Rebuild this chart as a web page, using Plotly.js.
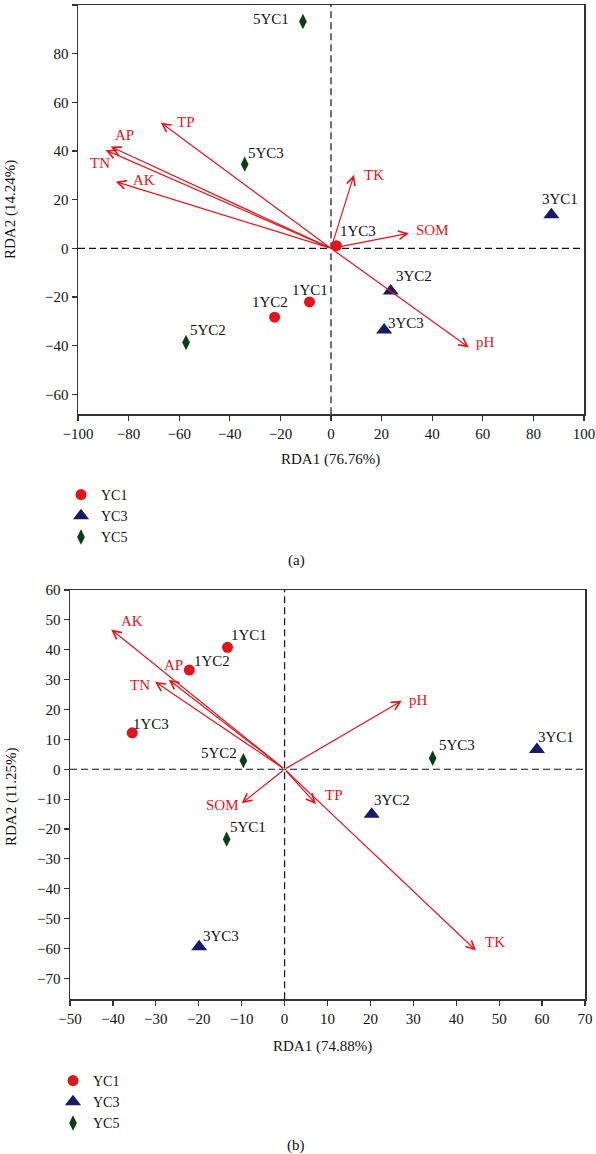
<!DOCTYPE html>
<html><head><meta charset="utf-8">
<script src="https://cdn.plot.ly/plotly-3.0.1.min.js"></script>
<style>html,body{margin:0;padding:0;background:#fff}#chart{width:596px;height:1154px}</style>
</head><body><div id="chart"></div>
<script>
// ---------- Data: panel (a) ----------
const groupNames = ['YC1', 'YC3', 'YC5'];

const aYC1Labels = ['1YC1', '1YC2', '1YC3'];
const aYC1X = [-8.5, -22.3, 2.1];
const aYC1Y = [-22.0, -28.3, 1.1];

const aYC3Labels = ['3YC1', '3YC2', '3YC3'];
const aYC3X = [87.1, 23.6, 21.0];
const aYC3Y = [13.8, -17.5, -33.6];

const aYC5Labels = ['5YC1', '5YC2', '5YC3'];
const aYC5X = [-11.1, -57.3, -34.1];
const aYC5Y = [93.2, -38.7, 34.6];

const aEnvNames = ['TP', 'AP', 'TN', 'AK', 'TK', 'SOM', 'pH'];
const aEnvX = [-67.3, -87.1, -89.1, -85.1, 9.1, 30.8, 54.5];
const aEnvY = [51.7, 41.8, 40.4, 27.4, 30.2, 6.2, -40.7];

const aXTitle = 'RDA1 (76.76%)';
const aYTitle = 'RDA2 (14.24%)';

// ---------- Data: panel (b) ----------
const bYC1Labels = ['1YC1', '1YC2', '1YC3'];
const bYC1X = [-13.3, -22.2, -35.5];
const bYC1Y = [40.8, 33.2, 12.2];

const bYC3Labels = ['3YC1', '3YC2', '3YC3'];
const bYC3X = [58.8, 20.3, -19.9];
const bYC3Y = [6.6, -15.1, -59.4];

const bYC5Labels = ['5YC1', '5YC2', '5YC3'];
const bYC5X = [-13.5, -9.6, 34.5];
const bYC5Y = [-23.4, 2.9, 3.7];

const bEnvNames = ['AK', 'AP', 'TN', 'pH', 'SOM', 'TP', 'TK'];
const bEnvX = [-40.4, -27.0, -30.2, 27.3, -10.0, 7.3, 44.6];
const bEnvY = [46.8, 30.0, 29.3, 22.9, -11.4, -11.6, -60.7];

const bXTitle = 'RDA1 (74.88%)';
const bYTitle = 'RDA2 (11.25%)';

// ---------- Label offsets (pixels, style only) ----------
const aSampleShift = {
  YC1: [[0, 12], [-5, 15], [22, 15]],
  YC3: [[9, 16], [23, 15], [22, 7]],
  YC5: [[-32, 3], [22, 13], [21, 11]]
};
const aEnvShift = [[25, 1], [14, 12], [-6, -13], [28, 2], [20, 0], [24, 3], [17, 5]];
const bSampleShift = {
  YC1: [[21, 12], [23, 9], [19, 9]],
  YC3: [[19, 13], [20, 14], [22, 11]],
  YC5: [[21, 12], [-24, 8], [24, 13]]
};
const bEnvShift = [[21, 8], [5, 15], [-15, -3], [17, 1], [-19, -2], [18, 9], [19, 9]];

// ---------- Styles ----------
const FONT = 'Liberation Serif, Times New Roman, serif';
const RED = '#e6141c';
const styles = {
  YC1: {symbol: 'circle', size: 11, color: '#e3121b'},
  YC3: {symbol: 'triangle-up', size: 14, color: '#151b68'},
  YC5: {symbol: 'diamond-tall', size: 11, color: '#0b3d16'}
};
const W = 596, H = 1154;
const px = v => v / W;
const py = v => 1 - v / H;

const panels = [
  {xa: 'x', ya: 'y', legend: 'legend',
   groups: {YC1: [aYC1Labels, aYC1X, aYC1Y], YC3: [aYC3Labels, aYC3X, aYC3Y], YC5: [aYC5Labels, aYC5X, aYC5Y]},
   env: [aEnvNames, aEnvX, aEnvY], sShift: aSampleShift, eShift: aEnvShift},
  {xa: 'x2', ya: 'y2', legend: 'legend2',
   groups: {YC1: [bYC1Labels, bYC1X, bYC1Y], YC3: [bYC3Labels, bYC3X, bYC3Y], YC5: [bYC5Labels, bYC5X, bYC5Y]},
   env: [bEnvNames, bEnvX, bEnvY], sShift: bSampleShift, eShift: bEnvShift}
];

const traces = [];
const annotations = [];
const shapes = [];

panels.forEach(p => {
  const [en, ex, ey] = p.env;
  en.forEach((name, i) => {
    annotations.push({
      xref: p.xa, yref: p.ya, axref: p.xa, ayref: p.ya,
      x: ex[i], y: ey[i], ax: 0, ay: 0, text: '',
      showarrow: true, arrowhead: 5, arrowsize: 1.4, arrowwidth: 1.2, arrowcolor: RED
    });
    annotations.push({
      xref: p.xa, yref: p.ya, x: ex[i], y: ey[i], text: name, showarrow: false,
      xshift: p.eShift[i][0], yshift: p.eShift[i][1],
      xanchor: 'center', yanchor: 'middle',
      font: {family: FONT, size: 15, color: RED}
    });
  });
  groupNames.forEach(g => {
    const [labels, xs, ys] = p.groups[g];
    traces.push({
      type: 'scatter', mode: 'markers', x: xs, y: ys, name: g,
      xaxis: p.xa, yaxis: p.ya, legend: p.legend, showlegend: true,
      marker: {symbol: styles[g].symbol, size: styles[g].size, color: styles[g].color},
      hoverinfo: 'skip', cliponaxis: false
    });
    labels.forEach((t, i) => {
      annotations.push({
        xref: p.xa, yref: p.ya, x: xs[i], y: ys[i], text: t, showarrow: false,
        xshift: p.sShift[g][i][0], yshift: p.sShift[g][i][1],
        xanchor: 'center', yanchor: 'middle',
        font: {family: FONT, size: 15, color: '#111'}
      });
    });
  });
  const dashLine = {color: '#111', width: 1.2, dash: '7px,4px'};
  shapes.push({type: 'line', layer: 'below', xref: p.xa, yref: p.ya + ' domain', x0: 0, x1: 0, y0: 0, y1: 1, line: dashLine});
  shapes.push({type: 'line', layer: 'below', xref: p.xa + ' domain', yref: p.ya, x0: 0, x1: 1, y0: 0, y1: 0, line: dashLine});
});

const textFont = {family: FONT, size: 15, color: '#111'};
annotations.push({xref: 'paper', yref: 'paper', x: px(330), y: py(460), text: aXTitle, showarrow: false, xanchor: 'center', yanchor: 'middle', font: textFont});
annotations.push({xref: 'paper', yref: 'paper', x: px(10), y: py(210), text: aYTitle, textangle: -90, showarrow: false, xanchor: 'center', yanchor: 'middle', font: textFont});
annotations.push({xref: 'paper', yref: 'paper', x: px(322), y: py(1046), text: bXTitle, showarrow: false, xanchor: 'center', yanchor: 'middle', font: textFont});
annotations.push({xref: 'paper', yref: 'paper', x: px(12), y: py(797), text: bYTitle, textangle: -90, showarrow: false, xanchor: 'center', yanchor: 'middle', font: textFont});
annotations.push({xref: 'paper', yref: 'paper', x: px(296), y: py(560), text: '(a)', showarrow: false, xanchor: 'center', yanchor: 'middle', font: textFont});
annotations.push({xref: 'paper', yref: 'paper', x: px(296), y: py(1145), text: '(b)', showarrow: false, xanchor: 'center', yanchor: 'middle', font: textFont});

const axBase = {
  showgrid: false, zeroline: false, showline: true, mirror: true,
  linecolor: '#333', linewidth: 1.5, ticks: 'outside', ticklen: 5, tickwidth: 1.2, tickcolor: '#333',
  tickfont: {family: FONT, size: 15, color: '#111'}, fixedrange: true
};

const layout = {
  width: W, height: H,
  margin: {l: 0, r: 0, t: 0, b: 0},
  paper_bgcolor: '#fff', plot_bgcolor: '#fff',
  xaxis: Object.assign({}, axBase, {domain: [px(78), px(584)], range: [-100, 100], tick0: -100, dtick: 20, anchor: 'y'}),
  yaxis: Object.assign({}, axBase, {domain: [py(414.3), py(5)], range: [-68.2, 100], tick0: 0, dtick: 20, anchor: 'x'}),
  xaxis2: Object.assign({}, axBase, {domain: [px(70), px(585)], range: [-50, 70], tick0: -50, dtick: 10, anchor: 'y2'}),
  yaxis2: Object.assign({}, axBase, {domain: [py(999.3), py(590)], range: [-77, 60], tick0: 0, dtick: 10, anchor: 'x2'}),
  legend: {x: px(61), y: py(479), xanchor: 'left', yanchor: 'top', bgcolor: 'rgba(0,0,0,0)',
           font: {family: FONT, size: 14, color: '#111'}, itemwidth: 30, tracegroupgap: 0},
  legend2: {x: px(53), y: py(1065), xanchor: 'left', yanchor: 'top', bgcolor: 'rgba(0,0,0,0)',
            font: {family: FONT, size: 14, color: '#111'}, itemwidth: 30, tracegroupgap: 0},
  shapes: shapes,
  annotations: annotations,
  showlegend: true
};

Plotly.newPlot('chart', traces, layout, {staticPlot: true, displayModeBar: false});
</script>
</body></html>
